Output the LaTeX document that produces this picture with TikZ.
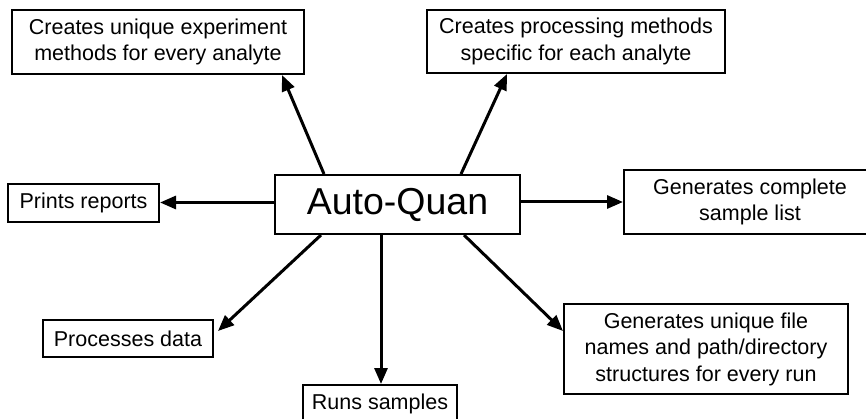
\documentclass[tikz,border=0pt]{standalone}
\usepackage{fontspec}
\setmainfont{Liberation Sans}
\usetikzlibrary{arrows.meta}
\tikzset{
  boxnode/.style={draw, line width=2pt, inner sep=0pt, align=center,
    font=\fontsize{21.5}{26.5}\selectfont},
  arr/.style={line width=3pt, -{Triangle[length=16pt,width=13pt]}}
}
\begin{document}
\begin{tikzpicture}[x=1pt,y=-1pt]
\useasboundingbox (0,0) rectangle (866,419);
\clip (0,0) rectangle (866,419);
\fill[white] (0,0) rectangle (866,419);
\node[boxnode, minimum width=292pt, minimum height=64pt] (exp) at (158,42) {Creates unique experiment\\methods for every analyte};
\node[boxnode, minimum width=298pt, minimum height=63pt] (proc) at (576,41.5) {Creates processing methods\\specific for each analyte};
\node[boxnode, minimum width=245pt, minimum height=59pt, font=\fontsize{37.5}{44}\selectfont] (auto) at (397.5,204.5) {Auto-Quan};
\node[boxnode, minimum width=151pt, minimum height=38pt] (prints) at (83.5,203) {Prints reports};
\node[boxnode, minimum width=252pt, minimum height=64pt] (gc) at (750,202) {Generates complete\\sample list};
\node[boxnode, minimum width=170pt, minimum height=37pt] (pd) at (128,338.5) {Processes data};
\node[boxnode, minimum width=154pt, minimum height=38pt] (runs) at (380,404) {Runs samples};
\node[boxnode, minimum width=284pt, minimum height=90pt] (gu) at (706,349) {Generates unique file\\names and path/directory\\structures for every run};

\draw[arr] ([xshift=50pt]auto.north west) -- ([xshift=271pt]exp.south west);
\draw[arr] ([xshift=187pt]auto.north west) -- ([xshift=81pt]proc.south west);
\draw[arr] ([yshift=2pt]auto.west) -- ([yshift=2pt]auto.west -| prints.east);
\draw[arr] ([yshift=2.5pt]auto.east) -- ([yshift=2.5pt]auto.east -| gc.west);
\draw[arr] ([xshift=47pt]auto.south west) -- ([xshift=4pt,yshift=-12pt]pd.north east);
\draw[arr] ([xshift=107pt]auto.south west) -- ([xshift=107pt]auto.south west |- runs.north);
\draw[arr] ([xshift=190pt]auto.south west) -- ([yshift=-28pt]gu.north west);
\end{tikzpicture}
\end{document}
